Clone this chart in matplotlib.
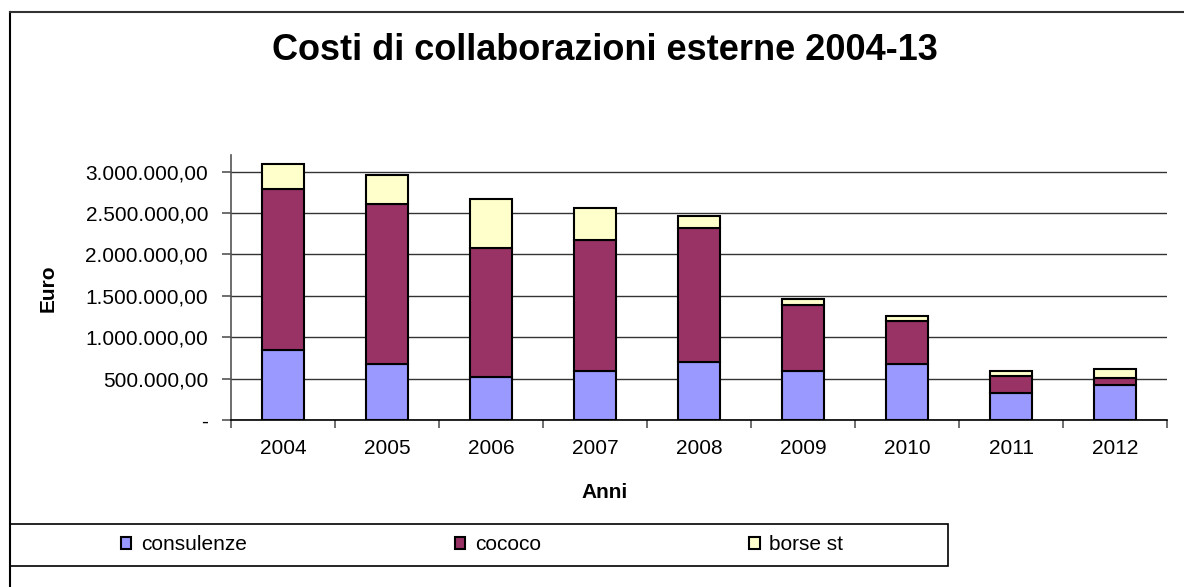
import matplotlib
matplotlib.use("Agg")
import matplotlib.pyplot as plt
from matplotlib.ticker import FuncFormatter
from matplotlib.lines import Line2D
import numpy as np

years = ["2004", "2005", "2006", "2007", "2008", "2009", "2010", "2011", "2012"]
consulenze = [845000, 680000, 515000, 587000, 704000, 587000, 680000, 326000, 422000]
cococo = [1943000, 1923000, 1565000, 1589000, 1609000, 805000, 519000, 205000, 85000]
borse_st = [309000, 358000, 591000, 378000, 149000, 72000, 56000, 60000, 108000]
series_names = ["consulenze", "cococo", "borse st"]
colors = ["#9999FF", "#993366", "#FFFFCC"]

plt.rcParams['font.family'] = ['Liberation Sans', 'DejaVu Sans']
FS = 15

fig = plt.figure(figsize=(11.84, 5.87), dpi=100)
W, H = 1184, 587
ax = fig.add_axes([231 / W, 1 - 420 / H, (1167 - 231) / W, (420 - 155) / H])

x = np.arange(len(years))
bottom = np.zeros(len(years))
handles = []
for vals, name, c in zip([consulenze, cococo, borse_st], series_names, colors):
    b = ax.bar(x, vals, width=0.4, bottom=bottom, color=c, edgecolor="black",
               linewidth=1.5, label=name, zorder=3)
    handles.append(b)
    bottom += np.array(vals)

ax.set_xlim(-0.5, len(years) - 0.5)
ax.set_ylim(0, 3200000)
ax.set_yticks(np.arange(0, 3000001, 500000))

def fmt(v, pos):
    if v == 0:
        return "-"
    s = f"{int(round(v)):,}".replace(",", ".")
    return s + ",00"

ax.yaxis.set_major_formatter(FuncFormatter(fmt))
ax.grid(axis="y", color="#333333", linewidth=1.0, zorder=0)
for s in ["top", "right"]:
    ax.spines[s].set_visible(False)
ax.spines["left"].set_color("#555555")
ax.spines["left"].set_linewidth(1.2)
ax.spines["bottom"].set_color("black")
ax.spines["bottom"].set_linewidth(1.2)

ax.set_xticks(np.arange(-0.5, len(years), 1.0))
ax.set_xticklabels([])
ax.set_xticks(x, minor=True)
ax.set_xticklabels(years, minor=True, fontsize=FS)
ax.tick_params(axis="x", which="minor", length=0, pad=14)
ax.tick_params(axis="x", which="major", length=6, width=1.2, direction="out", color="#555555")
ax.tick_params(axis="y", labelsize=FS, length=6.5, width=1.2, direction="out", color="#555555", pad=10)

ax.set_xlabel("Anni", fontsize=FS, fontweight="bold", va="center")
ax.xaxis.set_label_coords((605 - 231) / 936, (420 - 493) / 265)
ax.set_ylabel("Euro", fontsize=FS, fontweight="bold", va="center")
ax.yaxis.set_label_coords((48 - 231) / 936, (420 - 288) / 265)

fig.text(605 / W, 1 - 50 / H, "Costi di collaborazioni esterne 2004-13",
         fontsize=26, fontweight="bold", ha="center", va="center")

# legend box
fig.patches.append(plt.Rectangle((10 / W, 1 - 566 / H), (948 - 10) / W, 42 / H,
                                 transform=fig.transFigure, fill=False,
                                 edgecolor="black", linewidth=1.2))
leg = fig.legend(handles=handles, labels=series_names, ncol=3, loc="center",
                 bbox_to_anchor=(482 / W, 1 - 545 / H), frameon=False, fontsize=FS,
                 handlelength=0.5, handleheight=0.5, handletextpad=0.45,
                 columnspacing=10.0, borderaxespad=0, borderpad=0)

# outer chart border (left and top visible)
fig.add_artist(Line2D([9.5 / W, 9.5 / W], [0, 1 - 12 / H], transform=fig.transFigure,
                      color="black", linewidth=1.5))
fig.add_artist(Line2D([9.5 / W, 1], [1 - 12 / H, 1 - 12 / H], transform=fig.transFigure,
                      color="#333333", linewidth=1.5))

fig.savefig("out.png", dpi=100)
